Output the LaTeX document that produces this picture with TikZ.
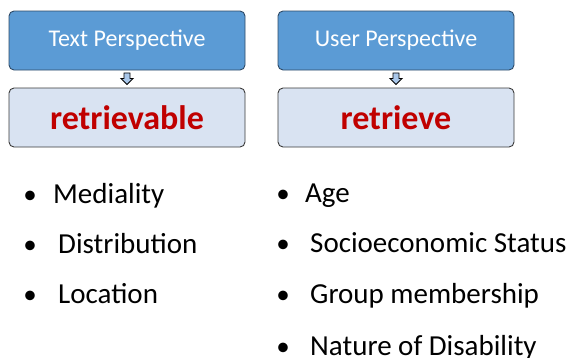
\documentclass[tikz,border=0pt]{standalone}
\usepackage{fontspec}
\setmainfont{Carlito}
\usetikzlibrary{calc}
\definecolor{topfill}{HTML}{5B9BD5}
\definecolor{topline}{HTML}{2E4A66}
\definecolor{botfill}{HTML}{D9E3F2}
\definecolor{botline}{HTML}{3A3A3A}
\definecolor{wordred}{HTML}{C00000}
\definecolor{arrfill}{HTML}{A9C7EA}
\tikzset{
  topbox/.style={draw=topline, fill=topfill, rounded corners=5pt, line width=0.9pt,
    minimum width=236pt, minimum height=59pt, inner sep=0pt, text=white,
    font=\fontsize{24}{28}\selectfont},
  botbox/.style={draw=botline, fill=botfill, rounded corners=5pt, line width=0.9pt,
    minimum width=236pt, minimum height=59pt, inner sep=0pt, text=wordred,
    font=\fontsize{34}{40}\selectfont\bfseries},
  bul/.style={anchor=base, inner sep=0pt, font=\fontsize{27}{30}\selectfont},
  item/.style={anchor=base west, inner sep=0pt, font=\fontsize{29}{34}\selectfont},
  blockarrow/.style={draw=black, fill=arrfill, line width=0.9pt, line join=miter},
}
\begin{document}
\begin{tikzpicture}[x=1pt,y=-1pt]
\useasboundingbox (0,0) rectangle (570,357);
\node[topbox] (t1) at (127,40.5) {Text Perspective};
\node[botbox] (b1) at (127,117.5) {retrievable};
\node[topbox] (t2) at (396,40.5) {User Perspective};
\node[botbox] (b2) at (396,117.5) {retrieve};
\foreach \n/\m in {t1/b1,t2/b2}{
  \draw[blockarrow] ($(\n.south)+(-3,2.5)$) -- ($(\n.south)+(3,2.5)$) -- ($(\n.south)+(3,8)$)
    -- ($(\n.south)+(6,8)$) -- ($(\m.north)+(0,-3)$) -- ($(\n.south)+(-6,8)$)
    -- ($(\n.south)+(-3,8)$) -- cycle;
}
\node[bul] (l1b) at (30,203) {•};
\node[item] (l1) at (53,203) {Mediality};
\node[bul] (l2b) at (30,253) {•};
\node[item] (l2) at (58,253) {Distribution};
\node[bul] (l3b) at (30,303) {•};
\node[item] (l3) at (58,303) {Location};
\node[bul] (r1b) at (283,202) {•};
\node[item] (r1) at (305,202) {Age};
\node[bul] (r2b) at (283,252) {•};
\node[item] (r2) at (310,252) {Socioeconomic Status};
\node[bul] (r3b) at (283,303) {•};
\node[item] (r3) at (310,303) {Group membership};
\node[bul] (r4b) at (283,355) {•};
\node[item] (r4) at (310,355) {Nature of Disability};
\end{tikzpicture}
\end{document}
